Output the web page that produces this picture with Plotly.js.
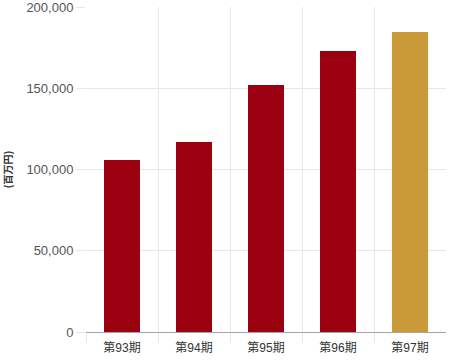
<!DOCTYPE html>
<html>
<head>
<meta charset="utf-8">
<script src="https://cdn.plot.ly/plotly-3.0.1.min.js"></script>
<style>html,body{margin:0;padding:0;background:#fff;}#chart{width:470px;height:360px;}</style>
</head>
<body>
<div id="chart"></div>
<script>
const categories = ["第93期", "第94期", "第95期", "第96期", "第97期"];
const values = [105800, 116900, 152000, 172900, 184600];
const barColors = ["#9b0011", "#9b0011", "#9b0011", "#9b0011", "#c99a37"];
const yTickVals = [0, 50000, 100000, 150000, 200000];
const yTickText = ["0", "50,000", "100,000", "150,000", "200,000"];
const yTitle = "(百万円)";

const xIdx = categories.map((c, i) => i);

const trace = {
  type: "bar",
  x: xIdx,
  y: values,
  width: 0.5,
  marker: { color: barColors },
  hoverinfo: "none"
};

const layout = {
  width: 470,
  height: 360,
  margin: { l: 86, r: 24, t: 7, b: 28 },
  paper_bgcolor: "#fff",
  plot_bgcolor: "#fff",
  showlegend: false,
  font: { family: "Liberation Sans, Arial, sans-serif" },
  xaxis: {
    type: "linear",
    range: [-0.5, 4.5],
    tickmode: "array",
    tickvals: xIdx,
    ticktext: categories,
    ticks: "",
    ticklabelstandoff: 5,
    showgrid: false,
    zeroline: false,
    showline: true,
    linecolor: "#a6a6a6",
    linewidth: 1,
    tickfont: { size: 12, color: "#333", family: "Liberation Sans, Noto Sans CJK JP, sans-serif" },
    minor: {
      tickmode: "array",
      tickvals: [-0.5, 0.5, 1.5, 2.5, 3.5],
      showgrid: true,
      gridcolor: "#e6e6e6",
      gridwidth: 1,
      ticks: "outside",
      ticklen: 10,
      tickcolor: "#e6e6e6",
      tickwidth: 1
    }
  },
  yaxis: {
    range: [0, 200000],
    tickmode: "array",
    tickvals: yTickVals,
    ticktext: yTickText,
    showgrid: true,
    gridcolor: "#e6e6e6",
    zeroline: false,
    showline: false,
    ticks: "outside",
    ticklen: 9,
    tickcolor: "#e6e6e6",
    ticklabeloverflow: "allow",
    tickfont: { size: 13, color: "#555" },
    title: { text: "<b>" + yTitle + "</b>", font: { size: 10, color: "#333", family: "Noto Sans CJK JP, sans-serif" }, standoff: 12 }
  }
};

Plotly.newPlot("chart", [trace], layout, { staticPlot: true, displayModeBar: false });
</script>
</body>
</html>
